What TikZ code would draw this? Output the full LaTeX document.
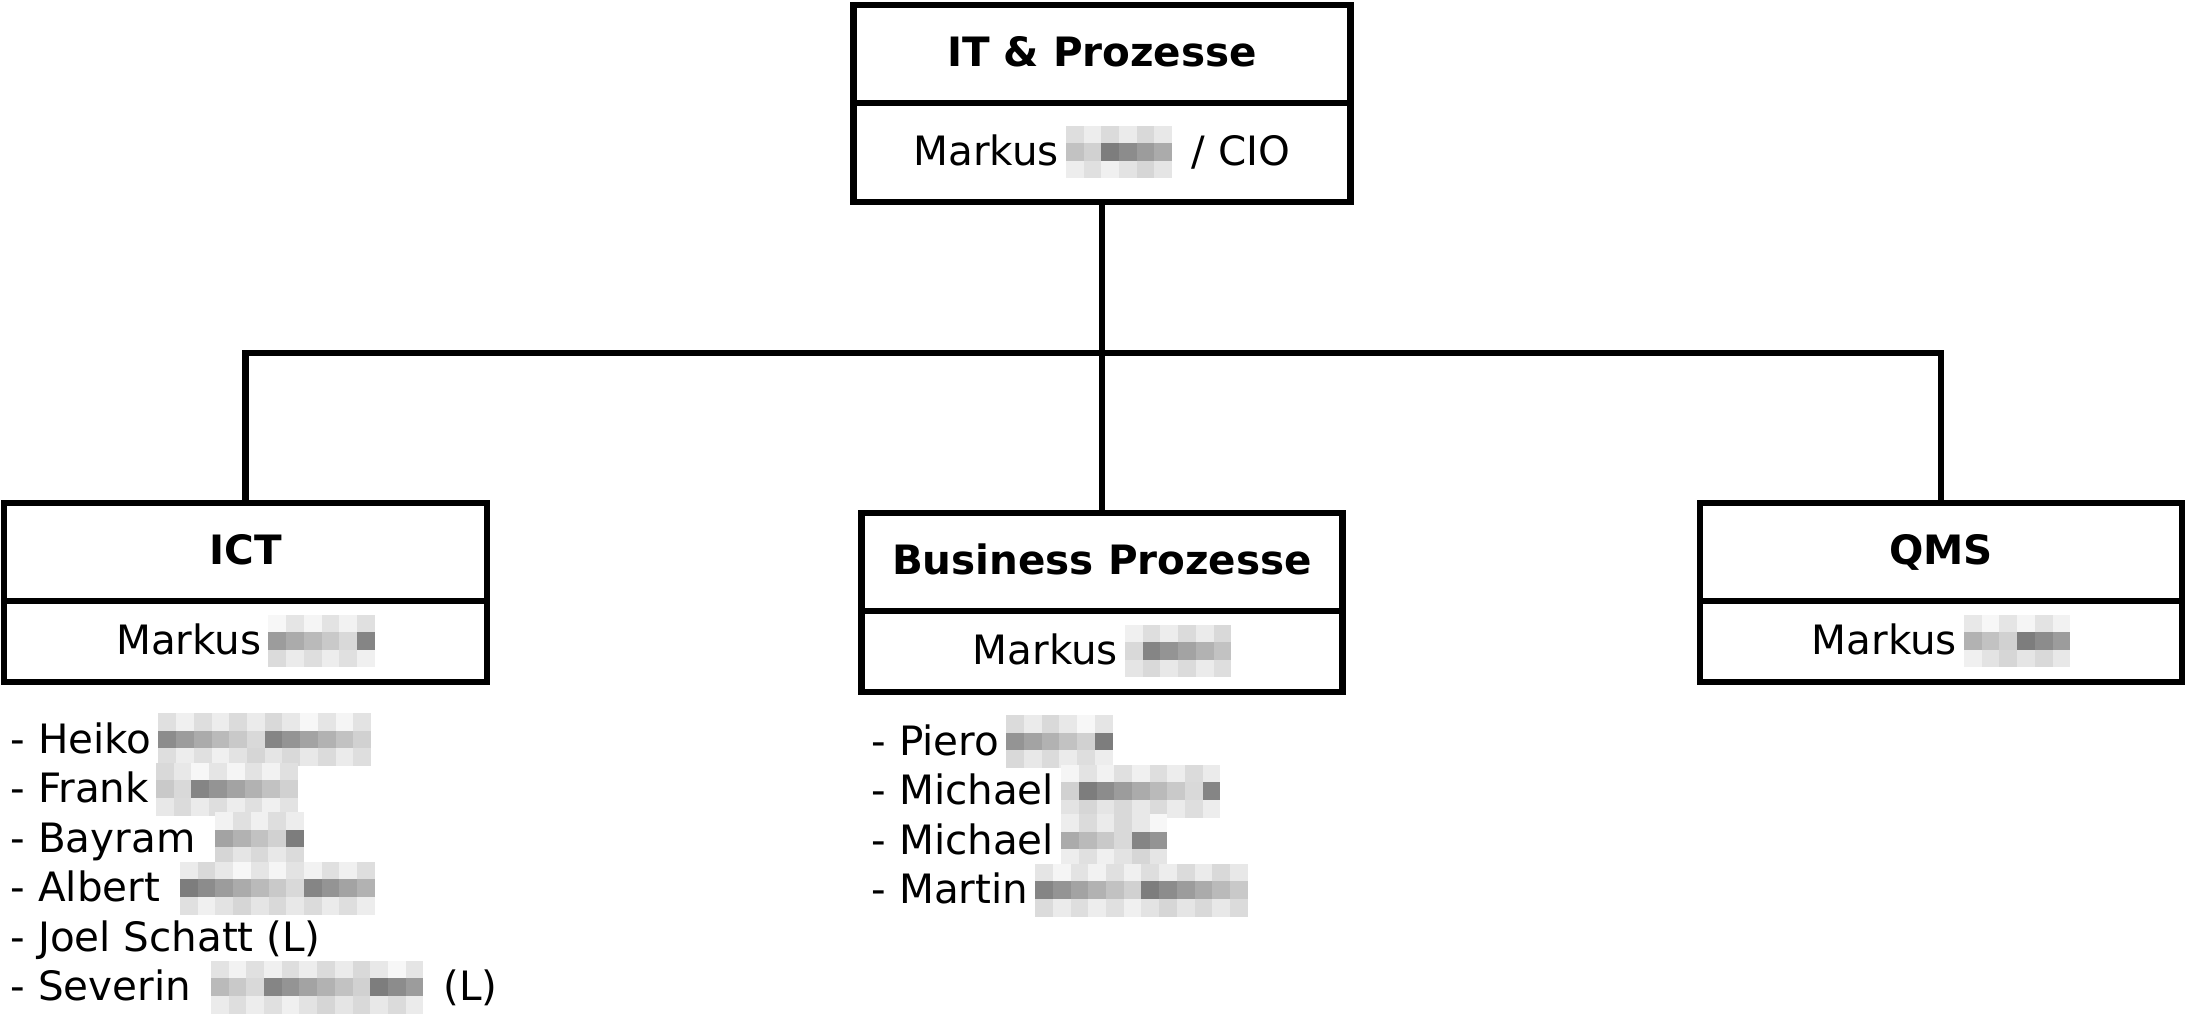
\documentclass[tikz,border=0pt]{standalone}
\usepackage{fontspec}
\setmainfont{DejaVu Sans}
\usepackage{tikz}
\usetikzlibrary{positioning}
\tikzset{unitbox/.style = {draw, line width=1.9pt, outer sep=0pt, inner sep=0pt,
                           minimum height=0.98cm, text height=1em, text depth=0.27em,
                           font=\fontsize{11.5}{13}\selectfont\bfseries}}
\tikzset{leadbox/.style = {draw, line width=1.9pt, outer sep=0pt, inner sep=0pt,
                           minimum height=0.81cm, text height=1em, text depth=0.27em,
                           font=\fontsize{11.5}{13}\selectfont}}
\tikzset{member/.style = {anchor=base west, inner sep=0pt,
                          font=\fontsize{11.5}{13}\selectfont}}
\tikzset{link/.style = {line width=1.9pt}}
\newcommand\pix[2]{\hspace{2pt}\foreach \i in {1,...,#1} {%
    \pgfmathtruncatemacro\ga{mod(\i*7+#2*3,13)+3}%
    \pgfmathtruncatemacro\gb{mod(\i*11+#2*5,13)*3+15}%
    \pgfmathtruncatemacro\gc{mod(\i*5+#2*7,11)+6}%
    \rlap{\color{black!\ga}\rule[0.22cm]{0.177cm}{0.177cm}}%
    \rlap{\color{black!\gb}\rule[0.045cm]{0.177cm}{0.177cm}}%
    {\color{black!\gc}\rule[-0.13cm]{0.177cm}{0.177cm}}}\hspace{2pt}}

\begin{document}
\begin{tikzpicture}[x=0.01cm, y=-0.01cm]
    \useasboundingbox (0, 0) rectangle (2185, 1027);

    \node[unitbox, minimum width=4.97cm] (itp) at (1102, 54) {IT \& Prozesse};
    \node[leadbox, minimum width=4.97cm, minimum height=0.99cm, below=0pt of itp] (itpl)
        {Markus\pix{6}{1} / CIO};

    \node[unitbox, minimum width=4.83cm] (ict) at (245.5, 552) {ICT};
    \node[leadbox, minimum width=4.83cm, below=0pt of ict] (ictl) {Markus\pix{6}{2}};

    \node[unitbox, minimum width=4.81cm] (bp) at (1102, 562) {Business Prozesse};
    \node[leadbox, minimum width=4.81cm, below=0pt of bp] (bpl) {Markus\pix{6}{3}};

    \node[unitbox, minimum width=4.82cm] (qms) at (1941, 552) {QMS};
    \node[leadbox, minimum width=4.82cm, below=0pt of qms] (qmsl) {Markus\pix{6}{4}};

    \coordinate (bar) at (1102, 353);
    \draw[link] (itpl.south) -- (bp.north);
    \draw[link] (ict.north) |- (bar) -| (qms.north);

    \foreach \txt [count=\k] in {{- Heiko\pix{12}{5}}, {- Frank\pix{8}{6}},
                                 {- Bayram \pix{5}{7}}, {- Albert \pix{11}{8}},
                                 {- Joel Schatt (L)}, {- Severin \pix{12}{9} (L)}} {
        \node[member] (ictm\k) at (10, {753+49.5*(\k-1)}) {\txt};
    }
    \foreach \txt [count=\k] in {{- Piero\pix{6}{10}}, {- Michael\pix{9}{11}},
                                 {- Michael\pix{6}{12}}, {- Martin\pix{12}{13}}} {
        \node[member] (bpm\k) at (871, {755+49.5*(\k-1)}) {\txt};
    }
\end{tikzpicture}
\end{document}
